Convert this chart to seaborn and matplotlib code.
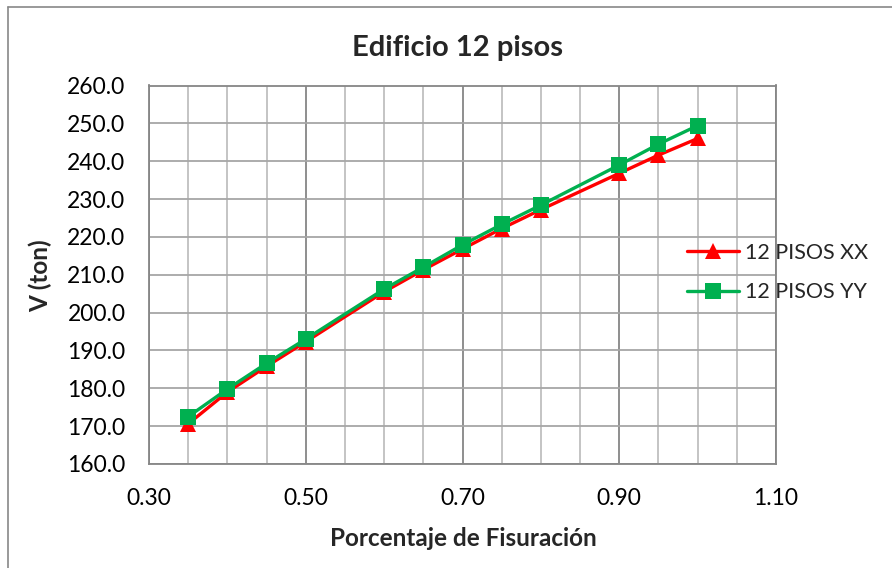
import matplotlib
matplotlib.use("Agg")
import matplotlib.pyplot as plt
import seaborn as sns
import pandas as pd
from matplotlib.ticker import MultipleLocator, FormatStrFormatter, FixedLocator
from matplotlib.lines import Line2D

fisuracion = [0.35, 0.40, 0.45, 0.50, 0.60, 0.65, 0.70, 0.75, 0.80, 0.90, 0.95, 1.00]
v_xx = [170.6, 179.0, 185.8, 192.3, 205.5, 211.3, 216.8, 222.2, 227.2, 236.8, 241.6, 246.0]
v_yy = [172.5, 179.8, 186.6, 193.0, 206.2, 212.0, 217.9, 223.3, 228.4, 239.0, 244.5, 249.4]
series_names = ["12 PISOS XX", "12 PISOS YY"]
x_ticks = [0.30, 0.50, 0.70, 0.90, 1.10]

sns.set_theme(style="white")
plt.rcParams['font.family'] = ['Lato', 'DejaVu Sans']

df = pd.concat([
    pd.DataFrame({"x": fisuracion, "v": v_xx, "serie": series_names[0]}),
    pd.DataFrame({"x": fisuracion, "v": v_yy, "serie": series_names[1]}),
])

fig = plt.figure(figsize=(8.92, 5.68), dpi=100)
ax = fig.add_axes([149/892, 1 - 464/568, (776-149)/892, (464-85.5)/568])

colors = {"12 PISOS XX": "#FF0000", "12 PISOS YY": "#00B050"}
markers = {"12 PISOS XX": "^", "12 PISOS YY": "s"}
for name in series_names:
    sub = df[df["serie"] == name]
    sns.lineplot(data=sub, x="x", y="v", ax=ax, color=colors[name], marker=markers[name],
                 markersize=11, markeredgewidth=0, linewidth=2.4, label=name, zorder=3)

ax.set_xlim(0.30, 1.10)
ax.set_ylim(160, 260)
ax.xaxis.set_major_locator(FixedLocator(x_ticks))
ax.xaxis.set_minor_locator(MultipleLocator(0.05))
ax.yaxis.set_major_locator(MultipleLocator(10))
ax.xaxis.set_major_formatter(FormatStrFormatter('%.2f'))
ax.yaxis.set_major_formatter(FormatStrFormatter('%.1f'))

ax.grid(which='major', axis='x', color='#868686', linewidth=1.3)
ax.grid(which='minor', axis='x', color='#BFBFBF', linewidth=1.3)
ax.grid(which='major', axis='y', color='#A6A6A6', linewidth=1.3)
ax.set_axisbelow(True)
for s in ax.spines.values():
    s.set_color('#868686')
    s.set_linewidth(1.3)

ax.tick_params(axis='both', which='both', length=0, labelsize=16.5, colors='black')
ax.tick_params(axis='x', pad=17)
ax.tick_params(axis='y', pad=17)

ax.set_xlabel("")
ax.set_ylabel("")
fig.text(463/892, 1 - 538/568, "Porcentaje de Fisuración", ha='center', va='center',
         fontsize=17.5, fontweight='bold')
fig.text(40/892, 1 - 276/568, "V (ton)", ha='center', va='center', rotation=90,
         fontsize=17.5, fontweight='bold')
fig.text(457/892, 1 - 48/568, "Edificio 12 pisos", ha='center', va='center',
         fontsize=21, fontweight='bold')

handles = [Line2D([0], [0], color=colors[n], marker=markers[n], markersize=11,
                  markeredgewidth=0, linewidth=2.4) for n in series_names]
leg = ax.legend(handles, series_names, loc='center left', bbox_to_anchor=(687/892, 1 - 272.5/568),
                bbox_transform=fig.transFigure, frameon=False, fontsize=15.5,
                borderpad=0, borderaxespad=0,
                handlelength=2.4, handletextpad=0.28, labelspacing=0.9)

# outer chart border (left/top visible in reference)
fig.add_artist(Line2D([8/892, 8/892], [0, 1 - 7/568], transform=fig.transFigure,
                      color='#888888', linewidth=1.2))
fig.add_artist(Line2D([8/892, 1], [1 - 7/568, 1 - 7/568], transform=fig.transFigure,
                      color='#888888', linewidth=1.2))

fig.savefig("out.png", dpi=100)
